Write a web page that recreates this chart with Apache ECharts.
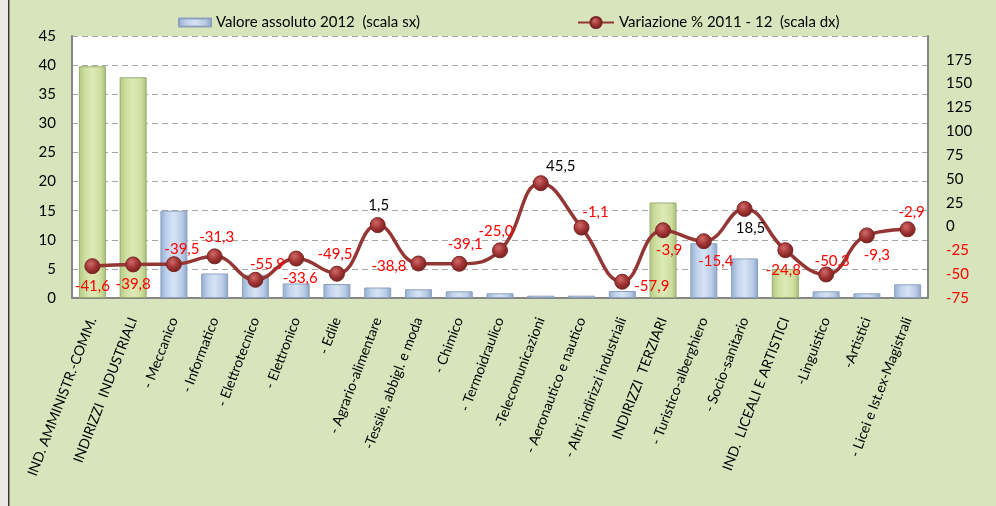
<!DOCTYPE html>
<html>
<head>
<meta charset="utf-8">
<script src="https://cdn.jsdelivr.net/npm/echarts@6/dist/echarts.min.js"></script>
<style>
  html, body { margin: 0; padding: 0; background: #d8e4bc; }
  #chart { width: 996px; height: 506px; }
</style>
</head>
<body>
<div id="chart"></div>
<script>
// categorie
var categories = [
  "IND. AMMINISTR.-COMM.",
  "INDIRIZZI  INDUSTRIALI",
  "- Meccanico",
  "- Informatico",
  "- Elettrotecnico",
  "- Elettronico",
  "- Edile",
  "- Agrario-alimentare",
  "-Tessile, abbigl. e moda",
  "- Chimico",
  "- Termoidraulico",
  "-Telecomunicazioni",
  "- Aeronautico e nautico",
  "- Altri indirizzi industriali",
  "INDIRIZZI  TERZIARI",
  "- Turistico-alberghiero",
  "- Socio-sanitario",
  "IND.  LICEALI E ARTISTICI",
  "-Linguistico",
  "-Artistici",
  "- Licei e Ist.ex-Magistrali"
];
// valore assoluto 2012 (scala sx)
var valori = [39.8, 37.9, 15.0, 4.2, 4.0, 2.5, 2.4, 1.8, 1.5, 1.15, 0.8, 0.4, 0.4, 1.2, 16.4, 9.4, 6.8, 5.0, 1.15, 0.8, 2.35];
// 1 = totale di gruppo (barra verde)
var gruppi = [1, 1, 0, 0, 0, 0, 0, 0, 0, 0, 0, 0, 0, 0, 1, 0, 0, 1, 0, 0, 0];
// variazione % 2011-12 (scala dx)
var variazioni = [-41.6, -39.8, -39.5, -31.3, -55.9, -33.6, -49.5, 1.5, -38.8, -39.1, -25.0, 45.5, -1.1, -57.9, -3.9, -15.4, 18.5, -24.8, -50.3, -9.3, -2.9];
// posizione etichette
var posEtichette = ["bottom", "bottom", "top", "top", "top", "bottom", "top", "top", "left", "top", "top", "top", "top", "right", "bottom", "bottom", "bottom", "bottom", "top", "bottom", "top"];
var offsetEtichette = [[0,0],[0,0],[8,4],[2,0],[12,4],[4,0],[-2,0],[1,0],[0,3],[6,0],[-4,0],[20,2],[14,4],[0,4],[6,0],[12,0],[6,0],[-2,0],[6,6],[10,0],[4,2]];

var fontFam = "Lato, 'Open Sans', sans-serif";

var blu = new echarts.graphic.LinearGradient(0, 0, 1, 0, [
  { offset: 0, color: "#95add0" },
  { offset: 0.25, color: "#c0d3ec" },
  { offset: 0.5, color: "#d6e3f4" },
  { offset: 0.8, color: "#b9cce7" },
  { offset: 1, color: "#8aa3c8" }
]);
var verde = new echarts.graphic.LinearGradient(0, 0, 1, 0, [
  { offset: 0, color: "#b4c884" },
  { offset: 0.25, color: "#d0e0a2" },
  { offset: 0.5, color: "#dde9b8" },
  { offset: 0.8, color: "#cfdf9f" },
  { offset: 1, color: "#a9bd7a" }
]);
var pallino = new echarts.graphic.RadialGradient(0.4, 0.35, 0.7, [
  { offset: 0, color: "#d06a6a" },
  { offset: 0.5, color: "#a33535" },
  { offset: 1, color: "#6e1c1c" }
]);

var barData = valori.map(function (v, i) {
  return gruppi[i]
    ? { value: v, itemStyle: { color: verde, borderColor: "#98ad6c" } }
    : { value: v };
});

var lineData = variazioni.map(function (v, i) {
  return {
    value: v,
    label: {
      position: posEtichette[i],
      offset: offsetEtichette[i],
      color: v < 0 ? "#ff0000" : "#000000"
    }
  };
});

var chart = echarts.init(document.getElementById("chart"));
var option = {
  backgroundColor: "#d8e4bc",
  animation: false,
  textStyle: { fontFamily: fontFam },
  graphic: [
    { type: "rect", shape: { x: 0, y: 0, width: 8, height: 506 }, style: { fill: "#ece9e3" } },
    { type: "rect", shape: { x: 8, y: 0, width: 1.5, height: 506 }, style: { fill: "#3a3a3a" } }
  ],
  legend: [
    {
      left: 173, top: 10,
      itemWidth: 32, itemHeight: 8, itemGap: 4,
      textStyle: { fontSize: 15, color: "#000", fontFamily: fontFam },
      data: [{ name: "Valore assoluto 2012  (scala sx)", icon: "rect" }]
    },
    {
      left: 572, top: 10,
      itemWidth: 36, itemHeight: 14, itemGap: 4,
      textStyle: { fontSize: 15, color: "#000", fontFamily: fontFam },
      data: ["Variazione % 2011 - 12  (scala dx)"]
    }
  ],
  grid: {
    left: 72, right: 68, top: 36, bottom: 208,
    show: true, backgroundColor: "#ffffff", borderWidth: 0
  },
  xAxis: {
    type: "category",
    data: categories,
    axisTick: { show: false },
    axisLine: { lineStyle: { color: "#868686", width: 2 } },
    axisLabel: {
      interval: 0, rotate: 69, margin: 20,
      fontSize: 14, color: "#000", fontFamily: fontFam
    }
  },
  yAxis: [
    {
      type: "value", min: 0, max: 45, interval: 5,
      axisLine: { show: true, lineStyle: { color: "#868686", width: 2 } },
      axisTick: { show: false },
      axisLabel: { fontSize: 15, color: "#000", margin: 16, fontFamily: fontFam },
      splitLine: { lineStyle: { color: "#a6a6a6", type: [6, 4], width: 1 } }
    },
    {
      type: "value", min: -75, max: 200, interval: 25,
      axisLine: { show: true, lineStyle: { color: "#868686", width: 2 } },
      axisTick: { show: false },
      splitLine: { show: false },
      axisLabel: {
        fontSize: 15, margin: 18, align: "left", fontFamily: fontFam,
        formatter: function (v) { return v === 200 ? "" : String(v); },
        color: function (v) { return Number(v) < 0 ? "#ff0000" : "#000000"; }
      }
    }
  ],
  series: [
    {
      name: "Valore assoluto 2012  (scala sx)",
      type: "bar",
      yAxisIndex: 0,
      barWidth: 27,
      itemStyle: { color: blu, borderColor: "#8da1bf", borderWidth: 1 },
      data: barData
    },
    {
      name: "Variazione % 2011 - 12  (scala dx)",
      type: "line",
      yAxisIndex: 1,
      smooth: 0.45,
      symbol: "circle",
      symbolSize: 15,
      lineStyle: { color: "#943634", width: 3.5 },
      itemStyle: { color: pallino, borderColor: "#7a2626", borderWidth: 1 },
      label: {
        show: true, fontSize: 15, distance: 4, fontFamily: fontFam,
        formatter: function (p) { return p.value.toFixed(1).replace(".", ","); }
      },
      data: lineData,
      z: 3
    }
  ]
};
chart.setOption(option);
</script>
</body>
</html>
